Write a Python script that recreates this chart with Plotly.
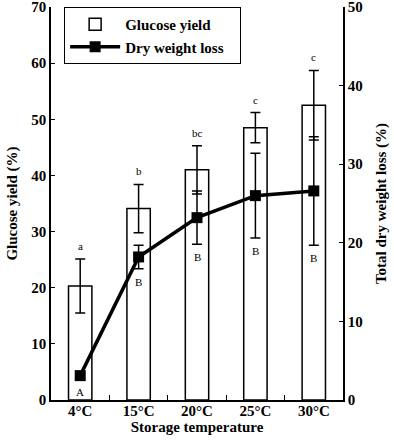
import plotly.graph_objects as go

categories = ["4°C", "15°C", "20°C", "25°C", "30°C"]
glucose_yield = [20.3, 34.1, 41.0, 48.5, 52.5]
glucose_err = [4.8, 4.3, 4.3, 2.7, 6.2]
glucose_letters = ["a", "b", "bc", "c", "c"]
dry_weight_loss = [3.1, 18.2, 23.2, 26.0, 26.6]
dry_weight_err = [0.4, 1.5, 3.4, 5.4, 6.9]
dry_letters = ["A", "B", "B", "B", "B"]

FONT = "Liberation Serif"
PAD = "\u00a0\u00a0\u00a0"

fig = go.Figure()
fig.add_trace(go.Bar(
    x=categories, y=glucose_yield, name="Glucose yield" + PAD,
    marker=dict(color="white", line=dict(color="black", width=1.5)),
    width=0.4,
    error_y=dict(type="data", array=glucose_err, color="black", thickness=1.5, width=5),
    yaxis="y",
))
fig.add_trace(go.Scatter(
    x=categories, y=dry_weight_loss, name="Dry weight loss" + PAD,
    mode="lines+markers",
    line=dict(color="black", width=3.5),
    marker=dict(symbol="square", size=11, color="black"),
    error_y=dict(type="data", array=dry_weight_err, color="black", thickness=1.5, width=5),
    yaxis="y2",
))

ann = []
for c, v, e, t in zip(categories, glucose_yield, glucose_err, glucose_letters):
    ann.append(dict(x=c, y=v + e, xref="x", yref="y", text=t, showarrow=False,
                    yshift=13, font=dict(family=FONT, size=11, color="black")))
for c, v, e, t in zip(categories, dry_weight_loss, dry_weight_err, dry_letters):
    ann.append(dict(x=c, y=v - e, xref="x", yref="y2", text=t, showarrow=False,
                    yshift=-13, font=dict(family=FONT, size=11, color="black")))

fig.update_layout(
    width=394, height=440,
    margin=dict(l=51, r=51, t=7, b=40),
    paper_bgcolor="white", plot_bgcolor="white",
    font=dict(family=FONT, size=14, color="black"),
    bargap=0.6,
    showlegend=True,
    legend=dict(
        x=0.045, y=1.0, xanchor="left", yanchor="top",
        bordercolor="black", borderwidth=1, bgcolor="white",
        font=dict(family=FONT, size=15, color="black", weight="bold"),
        itemwidth=50, tracegroupgap=8,
    ),
    xaxis=dict(
        showline=True, linecolor="black", linewidth=1.5,
        ticks="inside", ticklen=5, tickcolor="black", tickson="boundaries",
        tickfont=dict(family=FONT, size=15, weight="bold"),
        ticklabelstandoff=-4,
        title=dict(text="Storage temperature", standoff=0,
                   font=dict(family=FONT, size=15, weight="bold")),
        showgrid=False, range=[-0.5, 4.5], automargin=False,
    ),
    yaxis=dict(
        range=[0, 70], dtick=10,
        showline=True, linecolor="black", linewidth=1.5,
        ticks="inside", ticklen=4, tickcolor="black",
        tickfont=dict(family=FONT, size=15, weight="bold"),
        ticklabeloverflow="allow",
        title=dict(text="Glucose yield (%)", standoff=10,
                   font=dict(family=FONT, size=15, weight="bold")),
        showgrid=False, zeroline=False, automargin=False,
    ),
    yaxis2=dict(
        range=[0, 50], dtick=10, overlaying="y", side="right",
        showline=True, linecolor="black", linewidth=1.5,
        ticks="inside", ticklen=4, tickcolor="black",
        tickfont=dict(family=FONT, size=15, weight="bold"),
        ticklabeloverflow="allow",
        title=dict(text="Total dry weight loss (%)", standoff=14,
                   font=dict(family=FONT, size=15, weight="bold")),
        showgrid=False, zeroline=False, automargin=False,
    ),
    annotations=ann,
)

fig.write_html("out.html", config={"displayModeBar": False},
               post_script="document.body.style.margin='0px';")
